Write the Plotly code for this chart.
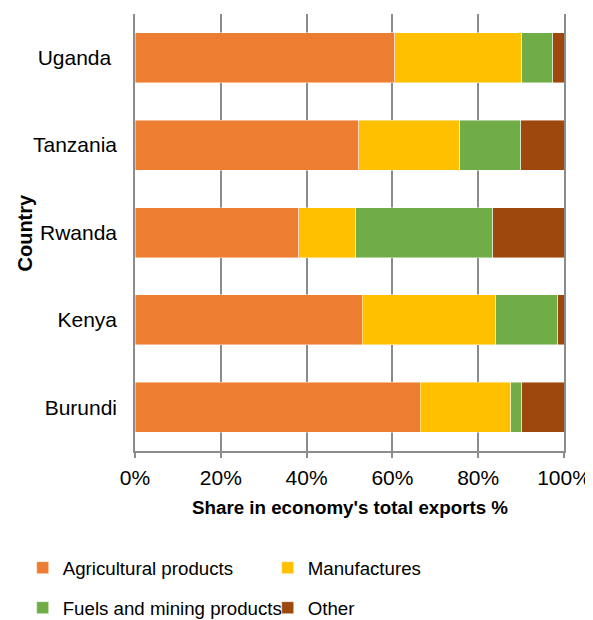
import plotly.graph_objects as go

countries = ["Burundi", "Kenya", "Rwanda", "Tanzania", "Uganda"]
tick_labels = ["Burundi", "Kenya", "Rwanda", "Tanzania", "Uganda "]
agricultural = [66.5, 53.0, 38.2, 52.2, 60.6]
manufactures = [21.1, 31.1, 13.3, 23.5, 29.6]
fuels_mining = [2.6, 14.4, 31.9, 14.2, 7.2]
other = [9.8, 1.5, 16.6, 10.1, 2.6]
x_ticks = [0, 20, 40, 60, 80, 100]
x_tick_text = ["0%", "20%", "40%", "60%", "80%", "100%"]

series = [
    ("Agricultural products", agricultural, "#ED7D31", "legend"),
    ("Manufactures", manufactures, "#FFC000", "legend"),
    ("Fuels and mining products", fuels_mining, "#70AD47", "legend2"),
    ("Other", other, "#9E480E", "legend2"),
]

FONT = "Liberation Sans, Arial, sans-serif"
GRID = "#8C8C8C"

fig = go.Figure()
for name, vals, color, leg in series:
    fig.add_trace(go.Bar(
        y=countries, x=vals, name=name, orientation="h",
        marker=dict(color=color, line=dict(color="rgba(255,255,255,0.6)", width=0.75)),
        legend=leg,
    ))

# page body has an 8px margin; work in page pixels then convert
OFF = 8
W, H = 593 - OFF, 620 - OFF
PL, PR, PT, PB = 135, 564, 14, 451  # plot area in page pixels
L = PL - OFF
R = 593 - PR
T = PT - OFF
B = H - (PB - OFF)
pw = W - L - R
ph = H - T - B

def px_x(p):
    return (p - OFF - L) / pw

def px_y(p):
    return (H - B - (p - OFF)) / ph

legend_common = dict(
    orientation="h", xanchor="left", yanchor="middle",
    font=dict(family=FONT, size=18.7, color="#000000"),
    entrywidth=200, entrywidthmode="pixels",
    bgcolor="rgba(0,0,0,0)", traceorder="normal",
)

fig.update_layout(
    width=W, height=H,
    margin=dict(l=L, r=R, t=T, b=B, autoexpand=False),
    paper_bgcolor="white", plot_bgcolor="white",
    barmode="stack", bargap=0.428,
    font=dict(family=FONT, color="#000000"),
    showlegend=True,
    legend=dict(x=px_x(22.7), y=px_y(568), **legend_common),
    legend2=dict(x=px_x(22.7), y=px_y(608), **legend_common),
    xaxis=dict(
        range=[0, 100], tickvals=x_ticks, ticktext=x_tick_text,
        showgrid=True, gridcolor=GRID, gridwidth=1.5,
        zeroline=False, showline=True, linecolor=GRID, linewidth=1.5,
        ticks="outside", ticklen=5, tickcolor=GRID, tickwidth=1.5,
        tickfont=dict(family=FONT, size=21, color="#000000"),
        ticklabelstandoff=2, fixedrange=True,
    ),
    yaxis=dict(
        categoryorder="array", categoryarray=countries,
        tickvals=countries, ticktext=tick_labels,
        showgrid=False, zeroline=False,
        showline=True, mirror=True, linecolor=GRID, linewidth=1.5,
        ticks="", tickfont=dict(family=FONT, size=21, color="#000000"),
        ticklabelstandoff=12, fixedrange=True,
    ),
    annotations=[
        dict(text="<b>Share in economy's total exports %</b>", xref="paper", yref="paper",
             x=0.5, y=0, xanchor="center", yanchor="middle", yshift=-56,
             showarrow=False, font=dict(family=FONT, size=18.75, color="#000000")),
        dict(text="<b>Country</b>", xref="paper", yref="paper",
             x=px_x(24), y=0.5, xanchor="center", yanchor="middle", textangle=-90,
             showarrow=False, font=dict(family=FONT, size=20, color="#000000")),
    ],
)

fig.write_html("out.html")
